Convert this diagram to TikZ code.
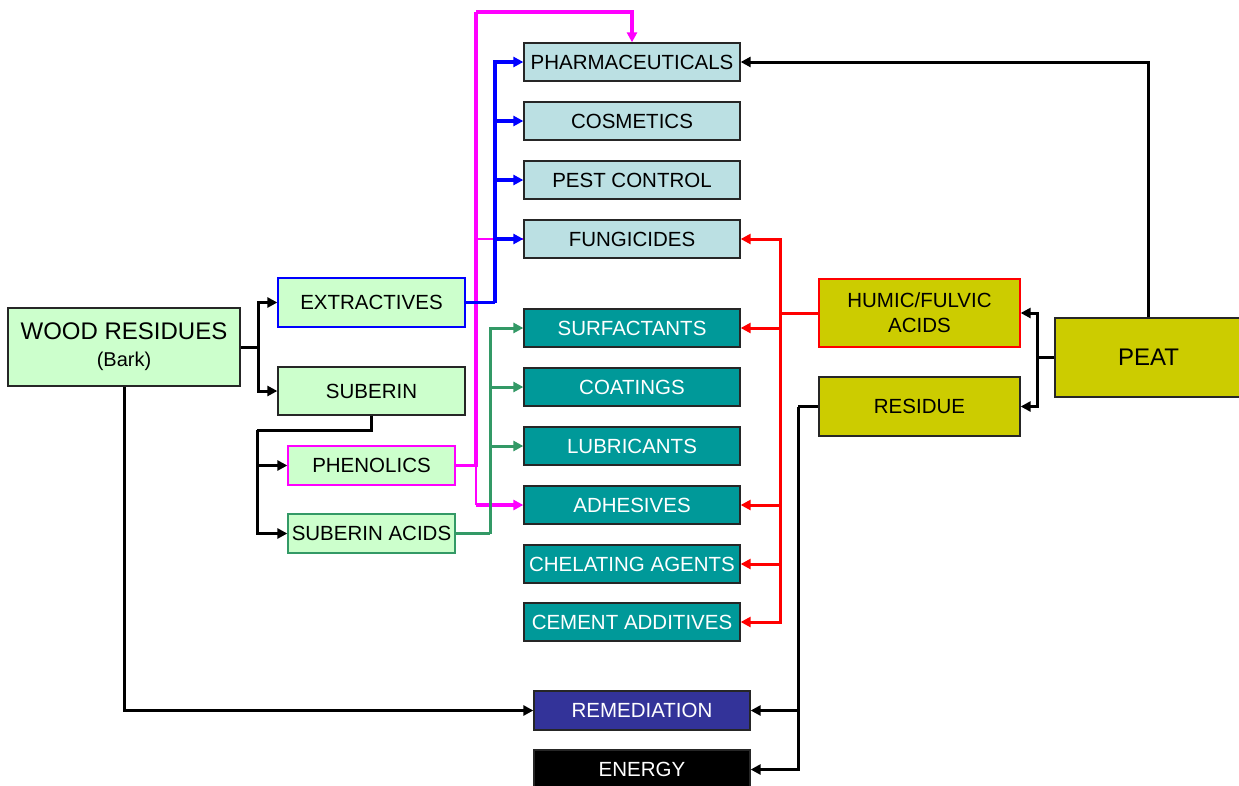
\documentclass[tikz,border=0pt]{standalone}
\usepackage{fontspec}
\setmainfont{Liberation Sans}
\usetikzlibrary{arrows.meta}
\definecolor{lgreen}{HTML}{CCFFCC}
\definecolor{lblue}{HTML}{BBE0E3}
\definecolor{teal2}{HTML}{009999}
\definecolor{olive2}{HTML}{CCCC00}
\definecolor{navy2}{HTML}{333399}
\definecolor{sgreen}{HTML}{339966}
\definecolor{mag2}{HTML}{FF00FF}
\definecolor{red2}{HTML}{FF0000}
\definecolor{blue2}{HTML}{0000FF}
\tikzset{
  box/.style={draw=black!85, line width=1.3pt, rectangle, inner sep=0pt, align=center, font=\fontsize{20.5}{24}\selectfont},
  gbox/.style={box, fill=lgreen, minimum width=187pt},
  pbox/.style={box, fill=lgreen, minimum width=167pt, minimum height=39pt},
  bbox/.style={box, fill=lblue, minimum width=216pt, minimum height=38pt},
  tbox/.style={box, fill=teal2, text=white, minimum width=216pt, minimum height=38pt},
  obox/.style={box, fill=olive2, minimum width=201pt},
  arr/.style={-{Triangle[length=10pt,width=10pt]}},
  blk/.style={line width=3pt, black},
  blu/.style={line width=3.5pt, blue2},
  mag/.style={line width=3.5pt, mag2},
  magthin/.style={line width=1.5pt, mag2},
  grn/.style={line width=3pt, sgreen},
  rd/.style={line width=3pt, red2},
}
\begin{document}
\begin{tikzpicture}[x=1pt,y=-1pt]
\useasboundingbox[fill=white] (0,0) rectangle (1239,785);
% left column
\node[box, fill=lgreen, minimum width=232pt, minimum height=78pt] (wood) at (124,347)
  {{\fontsize{24}{26}\selectfont WOOD RESIDUES}\\[3pt]{\fontsize{20}{22}\selectfont (Bark)}};
\node[gbox, draw=blue2, minimum height=49pt] (extr) at (371.5,302.5) {EXTRACTIVES};
\node[gbox, minimum height=48pt] (sub) at (371.5,391) {SUBERIN};
\node[pbox, draw=mag2] (phen) at (371.5,465.5) {PHENOLICS};
\node[pbox, draw=sgreen] (sacids) at (371.5,533.5) {SUBERIN ACIDS};
% middle column
\node[bbox] (pharm) at (632,62) {PHARMACEUTICALS};
\node[bbox] (cosm) at (632,121) {COSMETICS};
\node[bbox] (pest) at (632,180) {PEST CONTROL};
\node[bbox] (fung) at (632,239) {FUNGICIDES};
\node[tbox] (surf) at (632,328) {SURFACTANTS};
\node[tbox] (coat) at (632,387) {COATINGS};
\node[tbox] (lub) at (632,446) {LUBRICANTS};
\node[tbox] (adh) at (632,505) {ADHESIVES};
\node[tbox] (chel) at (632,564) {CHELATING AGENTS};
\node[tbox] (cem) at (632,622) {CEMENT ADDITIVES};
\node[box, fill=navy2, text=white, minimum width=216pt, minimum height=39pt] (remed) at (642,710.5) {REMEDIATION};
\node[box, fill=black, text=white, minimum width=216pt, minimum height=39pt] (energy) at (642,769.5) {ENERGY};
% right
\node[obox, draw=red2, minimum height=68pt] (humic) at (919.5,313) {HUMIC/FULVIC\\[1pt]ACIDS};
\node[obox, minimum height=59pt] (resid) at (919.5,406.5) {RESIDUE};
\node[box, fill=olive2, minimum width=187pt, minimum height=79pt, font=\fontsize{24}{26}\selectfont] (peat) at (1148.5,357.5) {PEAT};
% junction coordinates
\coordinate (wj) at (258,347);
\coordinate (sj) at (257,430);
\coordinate (bj) at (495,302.5);
\coordinate (mj) at (476,465.5);
\coordinate (mt) at (476,12);
\coordinate (gj) at (490,533.5);
\coordinate (rj) at (780,313);
\coordinate (pj) at (1037,357.5);
\coordinate (xj) at (798,406.5);
% wood residues
\draw[blk] (wood.east) -- (wj);
\draw[blk,arr] (wj) |- (extr.west);
\draw[blk,arr] (wj) |- (sub.west);
\draw[blk,arr] (wood.south) |- (remed.west);
% suberin
\draw[blk] (sub.south) |- (sj);
\draw[blk,arr] (sj) |- (phen.west);
\draw[blk,arr] (sj) |- (sacids.west);
% phenolics (magenta)
\draw[mag] (phen.east) -- (mj) -- (mt);
\draw[mag,arr] (mt) -| (pharm.north);
\draw[magthin] (mj |- fung.west) -- (fung.west);
\draw[magthin] (mj) -- (mj |- adh.west);
\draw[mag,arr] (mj |- adh.west) -- (adh.west);
% extractives (blue)
\draw[blu] (extr.east) -- (bj);
\draw[blu,arr] (bj) |- (pharm.west);
\draw[blu,arr] (bj) |- (cosm.west);
\draw[blu,arr] (bj) |- (pest.west);
\draw[blu,arr] (bj) |- (fung.west);
% suberin acids (green)
\draw[grn] (sacids.east) -- (gj);
\draw[grn,arr] (gj) |- (surf.west);
\draw[grn,arr] (gj) |- (coat.west);
\draw[grn,arr] (gj) |- (lub.west);
% humic (red)
\draw[rd] (humic.west) -- (rj);
\draw[rd,arr] (rj) |- (fung.east);
\draw[rd,arr] (rj) |- (surf.east);
\draw[rd,arr] (rj) |- (adh.east);
\draw[rd,arr] (rj) |- (chel.east);
\draw[rd,arr] (rj) |- (cem.east);
% peat
\draw[blk] (peat.west) -- (pj);
\draw[blk,arr] (pj) |- (humic.east);
\draw[blk,arr] (pj) |- (resid.east);
\draw[blk,arr] (peat.north) |- (pharm.east);
% residue
\draw[blk] (resid.west) -- (xj);
\draw[blk,arr] (xj) |- (remed.east);
\draw[blk,arr] (xj) |- (energy.east);
\end{tikzpicture}
\end{document}
